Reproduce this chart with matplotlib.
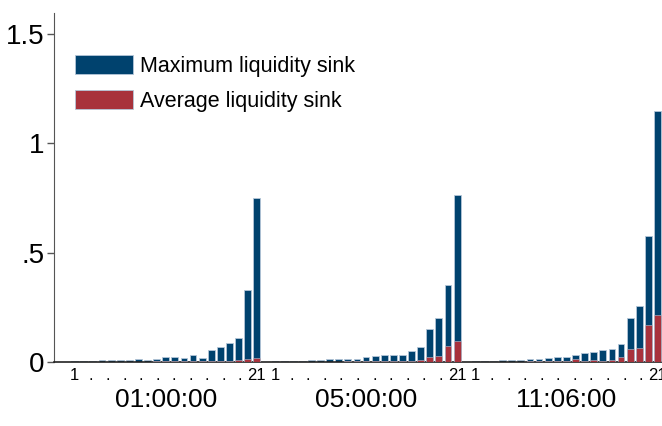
import numpy as np
import matplotlib
matplotlib.use("Agg")
import matplotlib.pyplot as plt
from matplotlib.patches import Patch

plt.rcParams['font.family'] = ['Liberation Sans Narrow', 'Liberation Sans', 'DejaVu Sans']

# data
groups = ["01:00:00", "05:00:00", "11:06:00"]
ranks = list(range(1, 22))

max_sink_0100 = [0.006, 0.006, 0.006, 0.007, 0.007, 0.008, 0.010, 0.013, 0.011, 0.015, 0.021,
                 0.023, 0.018, 0.032, 0.020, 0.053, 0.068, 0.085, 0.112, 0.331, 0.750]
avg_sink_0100 = [0.001, 0.001, 0.001, 0.001, 0.001, 0.002, 0.002, 0.002, 0.002, 0.003, 0.003,
                 0.003, 0.003, 0.004, 0.003, 0.004, 0.005, 0.006, 0.007, 0.014, 0.018]

max_sink_0500 = [0.006, 0.006, 0.006, 0.006, 0.008, 0.008, 0.012, 0.012, 0.015, 0.015, 0.021,
                 0.029, 0.032, 0.030, 0.032, 0.052, 0.070, 0.149, 0.201, 0.351, 0.764]
avg_sink_0500 = [0.001, 0.001, 0.001, 0.001, 0.002, 0.002, 0.002, 0.002, 0.003, 0.003, 0.004,
                 0.005, 0.005, 0.005, 0.005, 0.006, 0.011, 0.024, 0.027, 0.075, 0.097]

max_sink_1106 = [0.005, 0.006, 0.006, 0.007, 0.008, 0.009, 0.012, 0.012, 0.017, 0.022, 0.024,
                 0.031, 0.041, 0.044, 0.056, 0.060, 0.081, 0.202, 0.256, 0.575, 1.150]
avg_sink_1106 = [0.001, 0.001, 0.002, 0.002, 0.002, 0.002, 0.003, 0.003, 0.004, 0.005, 0.005,
                 0.012, 0.005, 0.008, 0.006, 0.007, 0.023, 0.058, 0.066, 0.168, 0.213]

max_sink = [max_sink_0100, max_sink_0500, max_sink_1106]
avg_sink = [avg_sink_0100, avg_sink_0500, avg_sink_1106]

blue = '#00426e'
red = '#a8323c'
edge = '#b4c6d8'

fig = plt.figure(figsize=(6.62, 4.26), dpi=100)
ax = fig.add_axes([54 / 662, 64 / 426, 1 - 54 / 662, 349 / 426])

# one empty slot between the groups
step = len(ranks) + 1
tick_pos = []
tick_lab = []
for g in range(len(groups)):
    x = g * step + np.array(ranks)
    ax.bar(x, max_sink[g], width=0.75, color=blue, edgecolor=edge, linewidth=0.6, zorder=2)
    ax.bar(x, avg_sink[g], width=0.75, color=red, edgecolor=edge, linewidth=0.4, zorder=3)
    pos = np.linspace(x[0], x[-1], 12)
    tick_pos += list(pos)
    tick_lab += ["1"] + ["."] * 10 + ["21"]
    ax.text(x.mean(), -0.11, groups[g], ha='center', va='center', fontsize=19,
            transform=ax.get_xaxis_transform())

ax.set_xlim(-1.27, 65.5)
ax.set_ylim(0, 1.596)
ax.set_yticks([0, 0.5, 1, 1.5])
ax.set_yticklabels(["0", ".5", "1", "1.5"], fontsize=20)
ax.set_xticks(tick_pos)
ax.set_xticklabels(tick_lab, fontsize=12)
ax.tick_params(axis='x', length=0, pad=4)
ax.tick_params(axis='y', length=5, width=1, color='#555555', pad=2)

for s in ['top', 'right']:
    ax.spines[s].set_visible(False)
ax.spines['left'].set_color('#555555')
ax.spines['bottom'].set_color('#222222')
ax.spines['bottom'].set_linewidth(1.2)

handles = [Patch(facecolor=blue, edgecolor=edge, linewidth=0.6),
           Patch(facecolor=red, edgecolor=edge, linewidth=0.6)]
ax.legend(handles, ["Maximum liquidity sink", "Average liquidity sink"], loc='upper left',
          bbox_to_anchor=(0.02, 0.905), frameon=False, fontsize=15.5, handlelength=2.7,
          handleheight=1.0, labelspacing=0.6, handletextpad=0.35, borderaxespad=0)

fig.savefig("out.png", dpi=100)
